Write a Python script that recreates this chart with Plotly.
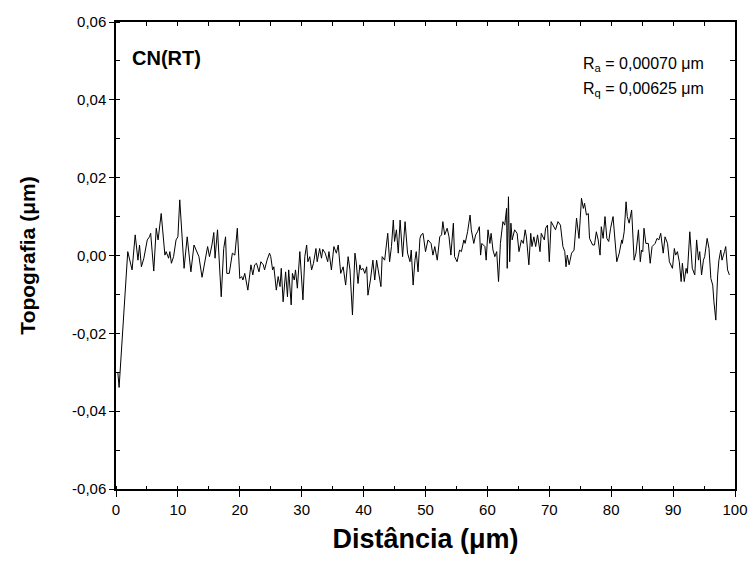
import plotly.graph_objects as go

# Profile: distance (µm) and topography (µm)
distance = [
    0.3, 0.5, 1.9, 2.6, 3.1, 3.55, 3.8, 4.1, 4.5, 4.9, 5.05, 5.4, 5.6, 6.1, 6.5, 6.8, 7.3, 7.9, 8.1, 8.5,
    8.7, 8.95, 9.3, 9.7, 10.0, 10.3, 10.7, 11.0, 11.5, 12.1, 12.6, 13.0, 13.4, 13.9, 14.3, 14.8, 15.1, 15.5,
    15.8, 16.0, 16.4, 16.6, 17.0, 17.4, 17.7, 17.9, 18.3, 18.8, 19.2, 19.6, 20.0, 20.3, 20.5, 20.8, 21.3,
    21.8, 22.1, 22.4, 22.7, 23.1, 23.4, 23.8, 24.0, 24.4, 24.8, 25.0, 25.3, 25.5, 25.9, 26.2, 26.5, 26.7,
    27.0, 27.4, 27.7, 27.9, 28.3, 28.5, 28.8, 29.0, 29.3, 29.7, 29.9, 30.2, 30.5, 30.8, 31.0, 31.3, 31.6,
    31.9, 32.3, 32.5, 32.9, 33.2, 33.4, 33.8, 34.2, 34.4, 34.8, 35.2, 35.6, 35.9, 36.3, 36.7, 37.1, 37.5,
    37.8, 38.2, 38.6, 38.8, 39.1, 39.4, 39.6, 39.9, 40.2, 40.5, 40.7, 41.1, 41.5, 41.8, 42.1, 42.5, 42.8,
    43.0, 43.4, 43.9, 44.2, 44.5, 44.8, 45.0, 45.3, 45.6, 45.9, 46.3, 46.7, 47.1, 47.5, 47.7, 48.0, 48.3,
    48.5, 48.8, 49.1, 49.3, 49.6, 50.0, 50.4, 50.9, 51.2, 51.5, 51.9, 52.3, 52.6, 52.8, 53.1, 53.5, 53.8,
    54.1, 54.5, 54.7, 55.1, 55.5, 55.8, 56.2, 56.4, 56.8, 57.2, 57.4, 57.8, 58.1, 58.4, 58.7, 58.9, 59.1,
    59.6, 59.8, 60.1, 60.4, 60.6, 60.9, 61.2, 61.5, 61.8, 62.1, 62.3, 62.5, 62.8, 63.1, 63.2, 63.4, 63.6,
    63.8, 64.0, 64.4, 64.8, 65.1, 65.5, 65.8, 66.1, 66.3, 66.7, 67.0, 67.2, 67.5, 67.8, 68.1, 68.5, 68.7,
    69.2, 69.4, 69.7, 70.0, 70.3, 70.8, 71.0, 71.4, 71.8, 72.2, 72.5, 72.7, 72.9, 73.2, 73.6, 74.0, 74.4,
    74.8, 75.2, 75.5, 75.7, 76.0, 76.3, 76.5, 77.0, 77.3, 77.6, 77.9, 78.2, 78.4, 78.7, 79.0, 79.3, 79.6,
    79.9, 80.3, 80.9, 81.3, 81.7, 81.8, 82.1, 82.4, 82.6, 82.9, 83.3, 83.7, 84.0, 84.4, 84.7, 84.9, 85.1,
    85.3, 85.6, 86.0, 86.3, 86.6, 87.1, 87.4, 87.7, 88.0, 88.4, 88.7, 89.1, 89.4, 89.9, 90.2, 90.4, 90.7,
    91.0, 91.3, 91.5, 91.8, 92.1, 92.3, 92.7, 93.1, 93.5, 93.8, 94.1, 94.3, 94.6, 94.9, 95.1, 95.5, 95.8,
    96.1, 96.4, 96.6, 96.9, 97.2, 97.4, 97.7, 97.9, 98.3, 98.5, 98.8, 99.1,
]
topography = [
    -0.0301, -0.0339, 0.0010, -0.0037, 0.0053, -0.0012, 0.0027, -0.0029, -0.0007, 0.0027, 0.0040, 0.0048,
    0.0057, -0.0040, 0.0070, 0.0040, 0.0108, 0.0001, 0.0010, -0.0007, 0.0010, -0.0020, -0.0003, 0.0040,
    0.0048, 0.0143, 0.0031, -0.0033, 0.0048, -0.0042, 0.0027, 0.0014, -0.0003, -0.0056, -0.0016, 0.0023,
    -0.0003, 0.0027, 0.0059, -0.0007, 0.0066, -0.0003, -0.0106, 0.0018, 0.0048, -0.0046, -0.0046, 0.0006,
    0.0001, 0.0070, -0.0059, -0.0054, -0.0063, -0.0046, -0.0089, -0.0024, -0.0050, -0.0024, -0.0020,
    -0.0042, -0.0016, -0.0024, -0.0037, -0.0012, 0.0006, -0.0003, -0.0037, -0.0029, -0.0089, -0.0054,
    -0.0080, -0.0033, -0.0119, -0.0042, -0.0106, -0.0037, -0.0127, -0.0046, -0.0063, -0.0037, -0.0084,
    0.0010, -0.0046, -0.0114, -0.0003, 0.0027, -0.0016, -0.0003, -0.0037, -0.0020, 0.0018, -0.0016, 0.0018,
    -0.0007, 0.0016, 0.0006, -0.0016, 0.0010, -0.0037, 0.0023, 0.0006, 0.0027, -0.0046, -0.0029, -0.0076,
    -0.0003, -0.0037, -0.0153, 0.0006, -0.0016, -0.0072, -0.0024, -0.0037, -0.0033, -0.0046, -0.0029,
    -0.0102, -0.0063, -0.0012, -0.0063, -0.0012, -0.0050, -0.0080, -0.0003, -0.0012, 0.0057, -0.0016,
    0.0023, 0.0091, 0.0036, 0.0066, 0.0006, 0.0091, -0.0003, 0.0087, 0.0006, -0.0016, 0.0014, -0.0076,
    -0.0012, 0.0010, -0.0042, 0.0044, 0.0053, 0.0057, 0.0010, 0.0040, 0.0031, 0.0001, 0.0023, -0.0012,
    0.0048, 0.0053, 0.0087, 0.0053, 0.0070, 0.0048, 0.0001, 0.0083, -0.0003, -0.0016, 0.0014, 0.0010,
    0.0040, 0.0031, 0.0061, 0.0104, 0.0066, 0.0031, 0.0053, 0.0061, 0.0074, 0.0001, 0.0031, 0.0023,
    -0.0012, 0.0066, 0.0031, 0.0057, 0.0014, -0.0003, 0.0010, -0.0067, 0.0031, 0.0066, 0.0087, 0.0078,
    0.0121, -0.0033, 0.0151, -0.0016, 0.0083, 0.0040, 0.0066, 0.0057, 0.0010, 0.0040, 0.0031, 0.0066,
    0.0048, -0.0024, 0.0057, 0.0023, 0.0048, 0.0023, 0.0053, 0.0010, 0.0057, 0.0040, 0.0070, 0.0078,
    -0.0016, 0.0087, 0.0074, 0.0066, 0.0087, 0.0078, 0.0023, 0.0010, -0.0029, 0.0001, -0.0024, 0.0006,
    0.0014, 0.0096, 0.0044, 0.0147, 0.0121, 0.0134, 0.0104, 0.0108, 0.0044, 0.0027, 0.0027, 0.0061,
    0.0040, 0.0001, 0.0074, 0.0044, 0.0100, 0.0044, 0.0036, 0.0070, 0.0100, -0.0016, 0.0006, 0.0040,
    0.0031, 0.0061, 0.0138, 0.0100, 0.0083, 0.0117, -0.0012, 0.0006, 0.0066, -0.0016, 0.0014, 0.0010,
    0.0070, 0.0031, 0.0031, -0.0020, 0.0023, 0.0031, 0.0044, 0.0040, 0.0057, 0.0006, 0.0048, 0.0031,
    -0.0016, -0.0033, 0.0018, 0.0001, 0.0010, -0.0016, -0.0067, -0.0020, -0.0067, -0.0033, -0.0046,
    0.0061, -0.0033, -0.0050, 0.0040, -0.0012, 0.0010, -0.0050, -0.0012, -0.0003, 0.0044, 0.0018,
    -0.0059, -0.0076, -0.0119, -0.0166, -0.0050, -0.0012, 0.0014, -0.0012, 0.0010, 0.0023, -0.0037,
    -0.0050,
]

y_tick_vals = [-0.06, -0.04, -0.02, 0.0, 0.02, 0.04, 0.06]
y_tick_text = ["-0,06", "-0,04", "-0,02", "0,00", "0,02", "0,04", "0,06"]
x_tick_vals = [0, 10, 20, 30, 40, 50, 60, 70, 80, 90, 100]

sample_label = "CN(RT)"
ra_label = "R<sub>a</sub> = 0,00070 μm"
rq_label = "R<sub>q</sub> = 0,00625 μm"

FONT = "Arial, 'Liberation Sans', sans-serif"

fig = go.Figure()
fig.add_trace(go.Scatter(
    x=distance, y=topography, mode="lines",
    line=dict(color="black", width=1), showlegend=False,
))
# helper trace so the mirrored (top/right) tick axes are drawn
fig.add_trace(go.Scatter(x=[None], y=[None], xaxis="x2", yaxis="y2",
                         mode="lines", showlegend=False, hoverinfo="skip"))

fig.update_layout(
    width=749, height=570,
    margin=dict(l=116, r=14, t=22, b=81),
    paper_bgcolor="white", plot_bgcolor="white",
    font=dict(family=FONT, color="black", size=15),
    separators=",.",
    xaxis=dict(
        range=[0, 100], tickvals=x_tick_vals, ticks="outside", ticklen=6, tickwidth=1.2,
        tickcolor="black", showline=True, linecolor="black", linewidth=1.5, mirror=True,
        showgrid=False, zeroline=False, automargin=False,
        minor=dict(tickmode="linear", tick0=0, dtick=5, ticks="inside", ticklen=3,
                   tickcolor="black", tickwidth=1.2, showgrid=False),
        tickfont=dict(size=15),
        title=dict(text="<b>Distância (μm)</b>", font=dict(size=27), standoff=12),
    ),
    yaxis=dict(
        range=[-0.06, 0.06], tickvals=y_tick_vals, ticktext=y_tick_text, ticks="outside",
        ticklen=5, tickwidth=1.2, tickcolor="black", showline=True, linecolor="black",
        linewidth=1.5, mirror=True, showgrid=False, zeroline=False, automargin=False,
        minor=dict(tickmode="linear", tick0=0, dtick=0.01, ticks="inside", ticklen=4,
                   tickcolor="black", tickwidth=1.2, showgrid=False),
        tickfont=dict(size=15),
        title=dict(text="<b>Topografia (μm)</b>", font=dict(size=21), standoff=31),
    ),
    xaxis2=dict(
        overlaying="x", side="top", range=[0, 100], tickmode="linear", tick0=0, dtick=5,
        ticks="inside", ticklen=4, tickwidth=1.2, tickcolor="black", showticklabels=False,
        showgrid=False, zeroline=False, showline=False, automargin=False,
    ),
    yaxis2=dict(
        overlaying="y", side="right", range=[-0.06, 0.06], tickmode="linear", tick0=0,
        dtick=0.01, ticks="inside", ticklen=5, tickwidth=1.2, tickcolor="black",
        showticklabels=False, showgrid=False, zeroline=False, showline=False, automargin=False,
    ),
)

fig.add_annotation(text="<b>" + sample_label + "</b>", xref="paper", yref="paper",
                   x=0.0227, y=0.923, xanchor="left", yanchor="middle",
                   showarrow=False, font=dict(size=20))
fig.add_annotation(text=ra_label, xref="paper", yref="paper",
                   x=0.752, y=0.91, xanchor="left", yanchor="middle",
                   showarrow=False, font=dict(size=16))
fig.add_annotation(text=rq_label, xref="paper", yref="paper",
                   x=0.752, y=0.855, xanchor="left", yanchor="middle",
                   showarrow=False, font=dict(size=16))

fig.write_html("out.html")
